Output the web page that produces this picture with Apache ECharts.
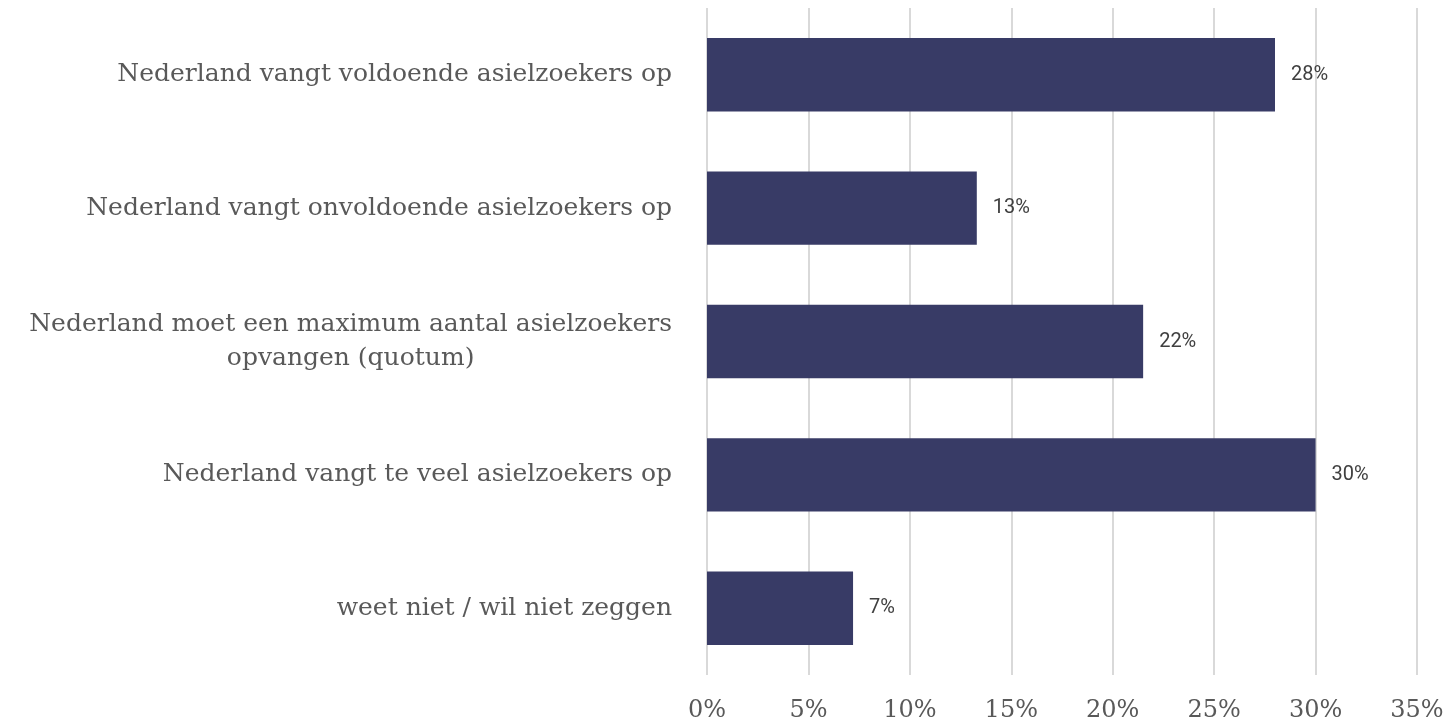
<!DOCTYPE html>
<html><head><meta charset="utf-8">
<script src="https://cdn.jsdelivr.net/npm/echarts@6/dist/echarts.min.js"></script>
<style>html,body{margin:0;padding:0;background:#fff}#c{width:1447px;height:723px}</style>
</head><body><div id="c"></div>
<script>
const categories = [
  "Nederland vangt voldoende asielzoekers op",
  "Nederland vangt onvoldoende asielzoekers op",
  "Nederland moet een maximum aantal asielzoekers\nopvangen (quotum)",
  "Nederland vangt te veel asielzoekers op",
  "weet niet / wil niet zeggen"
];
const values = [28.0, 13.3, 21.5, 30.0, 7.2];
const tickMin = 0, tickMax = 35, tickStep = 5;

const chart = echarts.init(document.getElementById('c'));
chart.setOption({
  animation: false,
  grid: {left: 707, right: 30, top: 8, bottom: 46},
  xAxis: {
    type: 'value', min: tickMin, max: tickMax, interval: tickStep,
    axisLine: {show: false}, axisTick: {show: false},
    splitLine: {show: true, lineStyle: {color: '#d9d9d9', width: 2}},
    axisLabel: {formatter: '{value}%', margin: 24, color: '#595959',
      fontFamily: 'DejaVu Serif', fontSize: 24}
  },
  yAxis: {
    type: 'category', data: categories, inverse: true,
    axisLine: {show: false}, axisTick: {show: false},
    axisLabel: {
      margin: 35, align: 'right', color: '#595959',
      fontFamily: 'DejaVu Serif', fontSize: 25, lineHeight: 34,
      formatter: function (v) { return v.split('\n').map(s => '{c|' + s + '}').join('\n'); },
      rich: {c: {align: 'center', color: '#595959', fontFamily: 'DejaVu Serif', fontSize: 25, lineHeight: 34}}
    }
  },
  series: [{
    type: 'bar', data: values, barWidth: '55%',
    itemStyle: {color: '#383b66'},
    label: {show: true, position: 'right', distance: 16, color: '#404040',
      fontFamily: 'Roboto', fontSize: 20,
      formatter: p => Math.round(p.value) + '%'}
  }]
});
</script></body></html>
